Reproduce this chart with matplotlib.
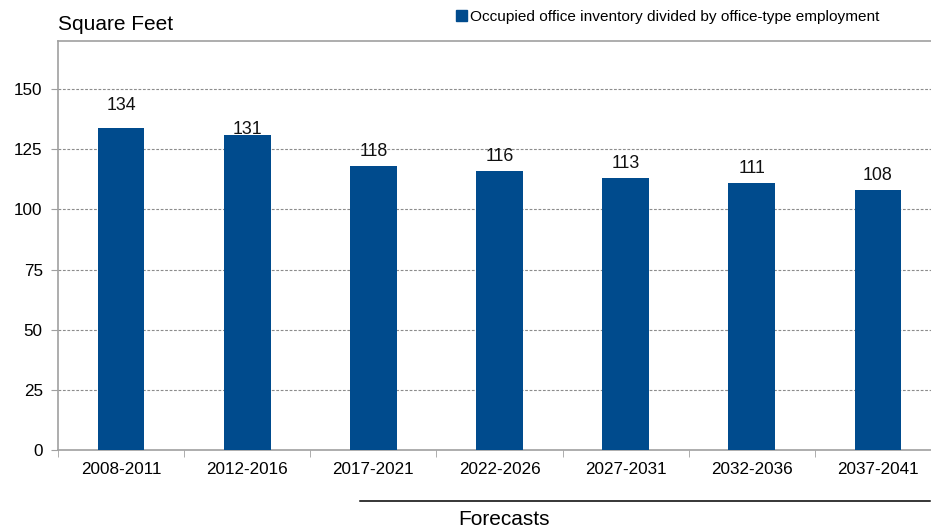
import matplotlib
matplotlib.use("Agg")
import matplotlib.pyplot as plt
from matplotlib.lines import Line2D
from matplotlib.patches import Patch

plt.rcParams['font.family'] = ['Liberation Sans', 'DejaVu Sans']

periods = ["2008-2011", "2012-2016", "2017-2021", "2022-2026",
           "2027-2031", "2032-2036", "2037-2041"]
sq_ft = [134, 131, 118, 116, 113, 111, 108]
y_ticks = [0, 25, 50, 75, 100, 125, 150]
series_name = "Occupied office inventory divided by office-type employment"

# gap (px) between each value label's baseline and its bar top
label_gap_px = [18, 1, 10, 10, 10, 10, 10]

bar_color = "#004B8D"
spine_color = "#A0A0A0"

W, H = 931, 529
fig = plt.figure(figsize=(W / 100, H / 100), dpi=100)
ax = fig.add_axes([58 / W, 79 / H, 883 / W, 409 / H])

x = list(range(len(periods)))
ax.bar(x, sq_ft, width=0.37, color=bar_color, zorder=3)
for xi, v, gap in zip(x, sq_ft, label_gap_px):
    ax.annotate(f"{v}", xy=(xi, v), xytext=(0, gap * 0.72), textcoords="offset points",
                ha="center", va="baseline", fontsize=12.8, color="#111111", zorder=4)

ax.set_xlim(-0.5, len(periods) - 0.5)
ax.set_ylim(0, 170)
ax.set_yticks(y_ticks)
ax.set_yticklabels([str(t) for t in y_ticks], fontsize=12.3)
ax.set_xticks(x)
ax.set_xticklabels(periods, fontsize=12.3)
ax.set_xticks([i - 0.5 for i in range(len(periods) + 1)], minor=True)
ax.tick_params(axis="x", which="major", length=0, pad=9)
ax.tick_params(axis="x", which="minor", length=5, color=spine_color)
ax.tick_params(axis="y", length=5, color=spine_color, pad=6)

for yt in y_ticks[1:]:
    ax.axhline(yt, color="#8C8C8C", lw=0.8, ls=(0, (2.5, 1.5)), zorder=1)

for side in ["left", "bottom", "top"]:
    ax.spines[side].set_color(spine_color)
    ax.spines[side].set_linewidth(1.2)
ax.spines["right"].set_visible(False)

fig.text(58 / W, 1 - 24 / H, "Square Feet", fontsize=15, ha="left", va="center")

handle = Patch(facecolor=bar_color, edgecolor=bar_color)
fig.legend([handle], [series_name], loc="center left",
           bbox_to_anchor=(448 / W, 1 - 17 / H), frameon=False, fontsize=11.1,
           handlelength=0.75, handleheight=0.75, handletextpad=0.2, borderpad=0)

fig.add_artist(Line2D([360 / W, 930 / W], [28.5 / H, 28.5 / H], color="black", lw=1.1))
fig.text(503.5 / W, 9.5 / H, "Forecasts", fontsize=15, ha="center", va="center")

fig.savefig("out.png", dpi=100)
